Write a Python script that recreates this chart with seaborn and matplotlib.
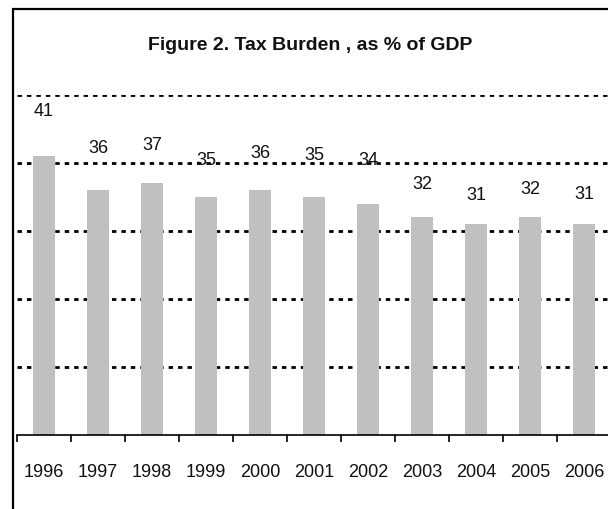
import matplotlib
matplotlib.use("Agg")
import matplotlib.pyplot as plt
from matplotlib.patches import Rectangle
import seaborn as sns
import pandas as pd

# Tax burden, % of GDP
years = ["1996", "1997", "1998", "1999", "2000", "2001", "2002", "2003", "2004", "2005", "2006"]
tax_burden = [41, 36, 37, 35, 36, 35, 34, 32, 31, 32, 31]

# vertical offset of each value label above its bar (pixels)
label_offsets = [46, 43, 39, 37, 38, 42, 44, 34, 30, 29, 31]

sns.set_theme(style="white")
plt.rcParams["font.family"] = ["Liberation Sans Narrow", "Liberation Sans", "DejaVu Sans"]
plt.rcParams["lines.scale_dashes"] = False

W, H = 608, 510
fig = plt.figure(figsize=(W / 100, H / 100), dpi=100)
fig.patch.set_facecolor("white")

# outer chart border
fig.patches.append(Rectangle((13 / W, -0.1), 1.2, 1 - 10 / H + 0.1,
                             transform=fig.transFigure, fill=False,
                             edgecolor="black", linewidth=1.6))

ax = fig.add_axes([17 / W, 74 / H, 594 / W, 340 / H])
df = pd.DataFrame({"year": years, "value": tax_burden})
sns.barplot(data=df, x="year", y="value", color="#c0c0c0", saturation=1,
            width=0.41, ax=ax, edgecolor="none")

ax.set_xlim(-0.5, len(years) - 0.5)
ax.set_ylim(0, 50)
ax.set_yticks([10, 20, 30, 40, 50])
ax.set_yticklabels([])
ax.tick_params(axis="y", length=0)
ax.set_axisbelow(True)
ax.yaxis.grid(True, color="black", linewidth=2.0, linestyle=(0, (3.2, 3.6)))
ax.xaxis.grid(False)

for side in ["left", "right", "top"]:
    ax.spines[side].set_visible(False)
ax.spines["bottom"].set_color("black")
ax.spines["bottom"].set_linewidth(1.2)

# category boundary ticks
ax.set_xticks([i - 0.5 for i in range(len(years))], minor=True)
ax.tick_params(axis="x", which="minor", direction="out", length=5, width=1.2,
               color="black", bottom=True)
ax.tick_params(axis="x", which="major", length=0, pad=20, labelsize=13,
               labelcolor="#111111")
ax.set_xlabel("")
ax.set_ylabel("")

for i, (v, off) in enumerate(zip(tax_burden, label_offsets)):
    ax.annotate(str(v), xy=(i, v), xytext=(0, off * 0.72),
                textcoords="offset points", ha="center", va="center",
                fontsize=13, color="#111111")

fig.text(0.51, 1 - 45 / H, "Figure 2. Tax Burden , as % of GDP",
         ha="center", va="center", fontsize=14, fontweight="bold",
         color="#111111")

fig.savefig("out.png", dpi=100)
